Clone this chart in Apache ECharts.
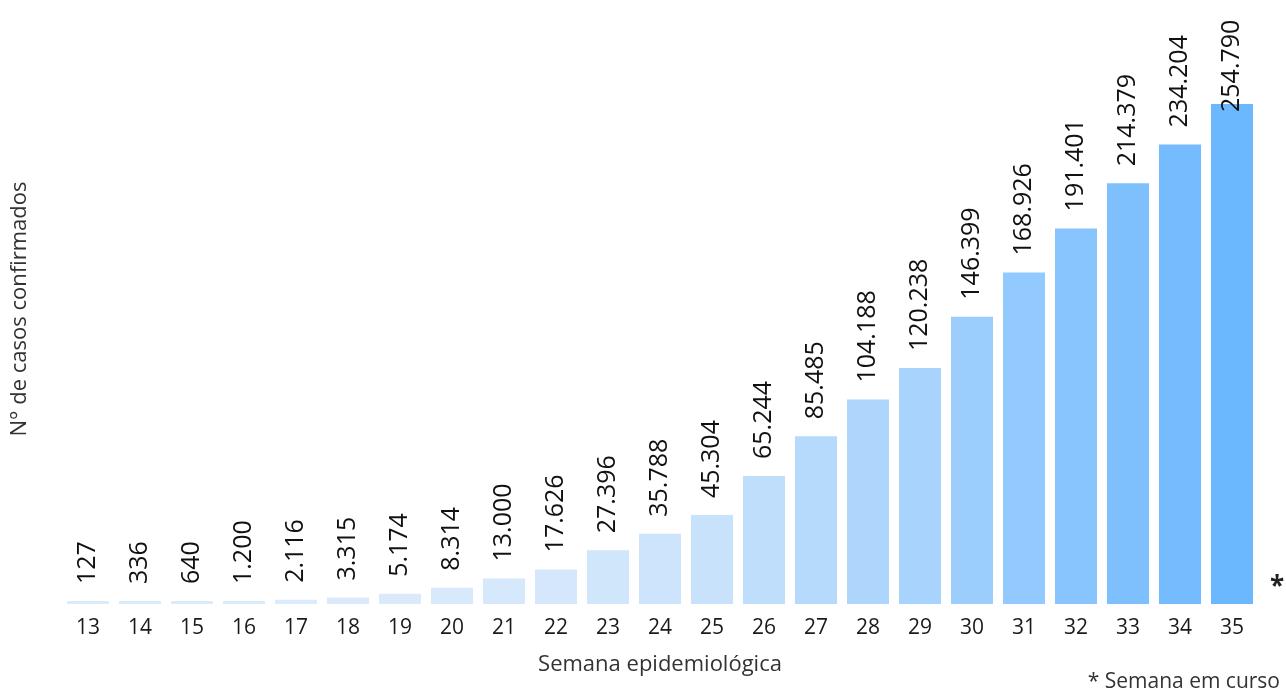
<!DOCTYPE html>
<html><head><meta charset="utf-8">
<script src="https://cdn.jsdelivr.net/npm/echarts@6/dist/echarts.min.js"></script>
<style>html,body{margin:0;padding:0;background:#fff}#c{width:1286px;height:695px}</style>
</head><body><div id="c"></div>
<script>
const semanas = ['13','14','15','16','17','18','19','20','21','22','23','24','25','26','27','28','29','30','31','32','33','34','35'];
const casos = [127,336,640,1200,2116,3315,5174,8314,13000,17626,27396,35788,45304,65244,85485,104188,120238,146399,168926,191401,214379,234204,254790];
const yTitle = 'N° de casos confirmados';
const xTitle = 'Semana epidemiológica';
const nota = '* Semana em curso';
const FONT = '"Open Sans", "Noto Sans", sans-serif';
const fmt = v => v.toLocaleString('de-DE');
const maxV = Math.max(...casos);
const chart = echarts.init(document.getElementById('c'));
chart.setOption({
  animation: false,
  textStyle: {fontFamily: FONT},
  grid: {left: 62, right: 28, top: 104, bottom: 91},
  visualMap: {show: false, type: 'continuous', min: 0, max: maxV, dimension: 1,
    inRange: {color: ['#dcebfb', '#6cb8ff']}},
  xAxis: {type: 'category', data: semanas,
    axisLine: {show: false}, axisTick: {show: false},
    axisLabel: {color: '#1a1a1a', fontSize: 21, margin: 14, fontFamily: FONT},
    name: xTitle, nameLocation: 'middle', nameGap: 50,
    nameTextStyle: {color: '#333', fontSize: 22, fontFamily: FONT, verticalAlign: 'top'}},
  yAxis: {type: 'value', min: 0, max: maxV,
    axisLine: {show: false}, axisTick: {show: false}, axisLabel: {show: false}, splitLine: {show: false}},
  series: [{type: 'bar', barWidth: 42, barMinHeight: 3,
    data: casos.map((v, i) => i === casos.length - 1
      ? {value: v, label: {distance: -8}} : v),
    label: {show: true, position: 'top', rotate: 90, align: 'left', verticalAlign: 'middle',
      distance: 17, color: '#111', fontSize: 25, fontFamily: FONT,
      formatter: p => fmt(p.value)}}],
  graphic: [
    {type: 'text', x: 20, y: 309, rotation: Math.PI / 2,
      style: {text: yTitle, fontSize: 22, fill: '#333', fontFamily: FONT, align: 'center', verticalAlign: 'middle'}},
    {type: 'text', left: 1270, top: 575, style: {text: '*', fontSize: 26, fontWeight: 'bold', fill: '#222', fontFamily: FONT}},
    {type: 'text', right: 6, top: 672, style: {text: nota, fontSize: 21, fill: '#333', fontFamily: FONT}}
  ]
});
</script></body></html>
